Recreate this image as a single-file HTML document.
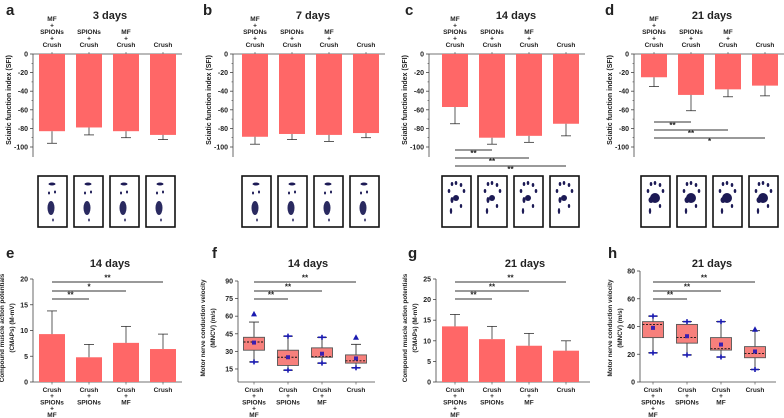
<!DOCTYPE html>
<html><head><meta charset="utf-8"><style>
html,body{margin:0;padding:0;background:#fff;width:784px;height:418px;overflow:hidden}
svg{display:block;font-family:"Liberation Sans",Arial,sans-serif}
</style></head><body>
<svg id="fig" width="784" height="418" viewBox="0 0 784 418" xmlns="http://www.w3.org/2000/svg"></svg>
<script>
// ---- data ----
const sfiCategories = [["MF","+","SPIONs","+","Crush"],["SPIONs","+","Crush"],["MF","+","Crush"],["Crush"]];
const sfiTicks = [0,-20,-40,-60,-80,-100];
const sfi3Mean = [-83,-79,-83,-87];
const sfi3Err  = [-96,-87,-90,-92];
const sfi7Mean = [-89,-86,-87,-85];
const sfi7Err  = [-97,-92,-94,-90];
const sfi14Mean = [-57,-90,-88,-75];
const sfi14Err  = [-75,-97,-95,-88];
const sfi21Mean = [-25,-44,-38,-34];
const sfi21Err  = [-35,-61,-46,-45];
const sig14Labels = ["**","**","**"];
const sig21Labels = ["**","**","*"];
const emgCategories = [["Crush","+","SPIONs","+","MF"],["Crush","+","SPIONs"],["Crush","+","MF"],["Crush"]];
const cmap14Mean = [9.3,4.8,7.6,6.4];
const cmap14Err  = [13.8,7.3,10.8,9.3];
const cmap14Ticks = [0,5,10,15,20];
const cmap14Sig = ["**","*","**"];
const cmap21Mean = [13.5,10.4,8.8,7.6];
const cmap21Err  = [16.4,13.5,11.8,10.0];
const cmap21Ticks = [0,5,10,15,20,25];
const cmap21Sig = ["**","**","**"];
const mncv14Q1 = [31,18,25,20];
const mncv14Q3 = [42,31,33,27];
const mncv14Med = [38,25,25.5,22];
const mncv14Mean = [37.5,25,28,24];
const mncv14Lo = [21,14,20,16];
const mncv14Hi = [55,43,42,36];
const mncv14Max = [62,43,42,42];
const mncv14Ticks = [15,30,45,60,75,90];
const mncv21Q1 = [32,28,23,17.5];
const mncv21Q3 = [43.5,41.5,32,25.5];
const mncv21Med = [41.5,32,24,20.5];
const mncv21Mean = [39,33,27,22];
const mncv21Lo = [21,19.5,18,9];
const mncv21Hi = [47.5,43.5,43.5,37];
const mncv21Max = [47.5,43.5,43.5,38];
const mncv21Ticks = [0,20,40,60,80];
const mncvSig = ["**","**","**"];

const NS="http://www.w3.org/2000/svg";
const svg=document.getElementById('fig');
function mk(tag,attrs,parent){const e=document.createElementNS(NS,tag);for(const k in attrs)e.setAttribute(k,attrs[k]);(parent||svg).appendChild(e);return e;}
function txt(x,y,s,size,opts,parent){opts=opts||{};const t=mk('text',{x:x,y:y,'font-size':size,'text-anchor':opts.anchor||'middle','font-weight':opts.bold?'bold':'normal',fill:'#222'},parent);if(opts.rot)t.setAttribute('transform','rotate(-90 '+x+' '+y+')');t.textContent=s;return t;}
const BAR='#ff6767', AX='#444';

function panelLetter(x,y,s){const t=txt(x,y,s,15,{bold:true,anchor:'start'});}
function title(x,y,s){const t=txt(x,y,s,11,{bold:true});}

function sfiPanel(o){
  const g=mk('g',{});
  
  
  const y0=54, y100=147;
  const sy=v=>y0+(-v)/100*(y100-y0);
  const cx=i=>o.bx+13+i*o.step;
  mk('line',{x1:o.ax,y1:y0,x2:o.ax,y2:157,stroke:AX,'stroke-width':0.8},g);
  mk('line',{x1:o.ax,y1:y0,x2:o.ar,y2:y0,stroke:AX,'stroke-width':0.8},g);
  sfiTicks.forEach(v=>{mk('line',{x1:o.ax-3,y1:sy(v),x2:o.ax,y2:sy(v),stroke:AX,'stroke-width':0.8},g);
    const t=txt(o.ax-5,sy(v)+2.5,String(v),7,{anchor:'end',bold:true},g);
    if(v>-100)mk('line',{x1:o.ax-1.5,y1:sy(v-10),x2:o.ax,y2:sy(v-10),stroke:AX,'stroke-width':0.6},g);});
  for(let i=0;i<4;i++)mk('line',{x1:cx(i),y1:y0-2,x2:cx(i),y2:y0,stroke:AX,'stroke-width':0.6},g);
  const yt=txt(o.ax-22,100,'Sciatic function index (SFI)',7,{rot:true,bold:true},g);
  
  sfiCategories.forEach((lines,i)=>{const n=lines.length;lines.forEach((s,k)=>{const t=txt(cx(i),47-(n-1-k)*6.5,s,6.5,{bold:true},g);});});
  o.mean.forEach((v,i)=>{
    const b=mk('rect',{x:cx(i)-13,y:y0,width:26,height:sy(v)-y0,fill:BAR},g);
    
    
    mk('line',{x1:cx(i),y1:sy(v),x2:cx(i),y2:sy(o.err[i]),stroke:'#333','stroke-width':0.8},g);
    mk('line',{x1:cx(i)-5,y1:sy(o.err[i]),x2:cx(i)+5,y2:sy(o.err[i]),stroke:'#333','stroke-width':0.8},g);
  });
  if(o.sig){o.sig.forEach((s,j)=>{const y=o.sigY[j];mk('line',{x1:cx(0),y1:y,x2:cx(j+1),y2:y,stroke:'#333','stroke-width':0.9},g);
    const t=txt((cx(0)+cx(j+1))/2,y+6,s,8,{bold:true},g);});}
  for(let i=0;i<4;i++){const fx=o.fx+i*o.fstep;
    const r=mk('rect',{x:fx,y:176,width:29,height:51,fill:'#fff',stroke:'#111','stroke-width':1.6},g);
    
    const c='#1c1a55';
    if(o.id==='d'||o.id==='c'){
      const sc=o.id==='d'?1:0.6;
      [[10,5],[14,4],[19,6],[7,12],[22,12]].forEach(p=>mk('ellipse',{cx:fx+p[0],cy:176+p[1]+3,rx:1.3,ry:2,fill:c},g));
      mk('ellipse',{cx:fx+14,cy:198,rx:5*sc,ry:5*sc,fill:c},g);
      mk('ellipse',{cx:fx+10,cy:200,rx:2.5*sc,ry:3,fill:c},g);
      mk('ellipse',{cx:fx+9,cy:211,rx:1.2,ry:3,fill:c},g);
      mk('ellipse',{cx:fx+19,cy:206,rx:1.2,ry:2,fill:c},g);
    } else {
      mk('ellipse',{cx:fx+14,cy:184,rx:3.5,ry:1.5,fill:c},g);
      mk('ellipse',{cx:fx+17,cy:192,rx:1,ry:1.5,fill:c},g);
      mk('ellipse',{cx:fx+11,cy:193,rx:1,ry:1.5,fill:c},g);
      mk('ellipse',{cx:fx+13,cy:208,rx:3.5,ry:7,fill:'#2a2a60'},g);
      mk('ellipse',{cx:fx+15,cy:220,rx:0.8,ry:1.5,fill:c},g);
    }
  }
  return g;
}
panelLetter(6,15,'a');title(110,19,'3 days');
sfiPanel({id:'a',ax:33,ar:182,bx:39,step:37,mean:sfi3Mean,err:sfi3Err,fx:38,fstep:36});
panelLetter(203,15,'b');title(313,19,'7 days');
sfiPanel({id:'b',ax:233,ar:385,bx:242,step:37,mean:sfi7Mean,err:sfi7Err,fx:242,fstep:36});
panelLetter(405,15,'c');title(516,19,'14 days');
sfiPanel({id:'c',ax:429,ar:585,bx:442,step:37,mean:sfi14Mean,err:sfi14Err,fx:442,fstep:36,sig:sig14Labels,sigY:[150,158,166]});
panelLetter(605,15,'d');title(712,19,'21 days');
sfiPanel({id:'d',ax:634,ar:784,bx:641,step:37,mean:sfi21Mean,err:sfi21Err,fx:641,fstep:36,sig:sig21Labels,sigY:[122,130,138]});

const yb=382;
function bottomAxes(g,o,sy,cx){
  mk('line',{x1:o.ax,y1:o.ytop,x2:o.ax,y2:yb,stroke:AX,'stroke-width':0.8},g);
  mk('line',{x1:o.ax,y1:yb,x2:o.ar,y2:yb,stroke:AX,'stroke-width':0.8},g);
  o.ticks.forEach(v=>{mk('line',{x1:o.ax-3,y1:sy(v),x2:o.ax,y2:sy(v),stroke:AX,'stroke-width':0.8},g);
    const t=txt(o.ax-5,sy(v)+2.5,String(v),7,{anchor:'end',bold:true},g);});
  for(let i=0;i<4;i++)mk('line',{x1:cx(i),y1:yb,x2:cx(i),y2:yb+2.5,stroke:AX,'stroke-width':0.6},g);
  o.ytitle.forEach((s,k)=>{const t=txt(o.ax-o.tOff+k*10,328,s,6.3,{rot:true,bold:true},g);});
  emgCategories.forEach((lines,i)=>lines.forEach((s,k)=>{const t=txt(cx(i),392+k*6.2,s,6.5,{bold:true},g);}));
  o.sig.forEach((s,j)=>{const y=[282,291,299][j];const xe=cx(3-j);
    mk('line',{x1:cx(0),y1:y,x2:xe,y2:y,stroke:'#333','stroke-width':0.9},g);
    const t=txt((cx(0)+xe)/2,y-1.5,s,8,{bold:true},g);});
}
function barPanel(o){
  const g=mk('g',{});
  
  
  const sy=v=>yb-(v-o.min)/(o.max-o.min)*(yb-o.ytop);
  const cx=i=>o.bx+13+i*o.step;
  bottomAxes(g,o,sy,cx);
  o.mean.forEach((v,i)=>{
    const b=mk('rect',{x:cx(i)-13,y:sy(v),width:26,height:yb-sy(v),fill:BAR},g);
    
    
    mk('line',{x1:cx(i),y1:sy(v),x2:cx(i),y2:sy(o.err[i]),stroke:'#333','stroke-width':0.8},g);
    mk('line',{x1:cx(i)-5,y1:sy(o.err[i]),x2:cx(i)+5,y2:sy(o.err[i]),stroke:'#333','stroke-width':0.8},g);
  });
}
function boxPanel(o){
  const g=mk('g',{});
  
  
  const sy=v=>yb-(v-o.min)/(o.max-o.min)*(yb-o.ytop);
  const cx=i=>o.c0+i*o.step;
  bottomAxes(g,o,sy,cx);
  const blue='#1a1ab0';
  for(let i=0;i<4;i++){const x=cx(i);
    mk('line',{x1:x,y1:sy(o.hi[i]),x2:x,y2:sy(o.lo[i]),stroke:'#333','stroke-width':0.9},g);
    mk('line',{x1:x-5,y1:sy(o.hi[i]),x2:x+5,y2:sy(o.hi[i]),stroke:'#333','stroke-width':0.9},g);
    mk('line',{x1:x-5,y1:sy(o.lo[i]),x2:x+5,y2:sy(o.lo[i]),stroke:'#333','stroke-width':0.9},g);
    const b=mk('rect',{x:x-10.5,y:sy(o.q3[i]),width:21,height:sy(o.q1[i])-sy(o.q3[i]),fill:'#f7807c',stroke:'#555','stroke-width':0.9},g);
    
    
    mk('line',{x1:x-10.5,y1:sy(o.med[i]),x2:x+10.5,y2:sy(o.med[i]),stroke:'#111','stroke-width':0.9,'stroke-dasharray':'2,1.5'},g);
    const m=mk('rect',{x:x-2,y:sy(o.mean[i])-2,width:4,height:4,fill:'#3a1fb0'},g);
    
    mk('line',{x1:x-4,y1:sy(o.lo[i]),x2:x+4,y2:sy(o.lo[i]),stroke:blue,'stroke-width':1.6},g);
    mk('line',{x1:x,y1:sy(o.lo[i])-2.5,x2:x,y2:sy(o.lo[i])+2.5,stroke:blue,'stroke-width':1.6},g);
    const ym=sy(o.mx[i]);
    if(o.mx[i]>o.hi[i]){mk('polygon',{points:(x-3)+','+(ym+2.5)+' '+(x+3)+','+(ym+2.5)+' '+x+','+(ym-3),fill:blue},g);}
    else{mk('line',{x1:x-4,y1:ym,x2:x+4,y2:ym,stroke:blue,'stroke-width':1.6},g);mk('line',{x1:x,y1:ym-2.5,x2:x,y2:ym+2.5,stroke:blue,'stroke-width':1.6},g);}
  }
}
panelLetter(6,258,'e');title(110,267,'14 days');
barPanel({id:'e',ax:33,ar:182,ytop:279,min:0,max:20,ticks:cmap14Ticks,bx:39,step:37,mean:cmap14Mean,err:cmap14Err,sig:cmap14Sig,tOff:29,ytitle:['Compound muscle action potentials','(CMAPs) (M-mV)']});
panelLetter(212,258,'f');title(308,267,'14 days');
boxPanel({id:'f',ax:238,ar:375,ytop:281,min:90-(382-281)/1.173,max:90,ticks:mncv14Ticks,c0:254,step:34,q1:mncv14Q1,q3:mncv14Q3,med:mncv14Med,mean:mncv14Mean,lo:mncv14Lo,hi:mncv14Hi,mx:mncv14Max,sig:mncvSig,tOff:33,ytitle:['Motor nerve conduction velocity','(MNCV)  (m/s)']});
panelLetter(408,258,'g');title(525,267,'21 days');
barPanel({id:'g',ax:436,ar:590,ytop:279,min:0,max:25,ticks:cmap21Ticks,bx:442,step:37,mean:cmap21Mean,err:cmap21Err,sig:cmap21Sig,tOff:29,ytitle:['Compound muscle action potentials','(CMAPs) (M-mV)']});
panelLetter(608,258,'h');title(712,267,'21 days');
boxPanel({id:'h',ax:640,ar:776,ytop:271,min:0,max:80,ticks:mncv21Ticks,c0:653,step:34,q1:mncv21Q1,q3:mncv21Q3,med:mncv21Med,mean:mncv21Mean,lo:mncv21Lo,hi:mncv21Hi,mx:mncv21Max,sig:mncvSig,tOff:28,ytitle:['Motor nerve conduction velocity','(MNCV)  (m/s)']});
</script>
</body></html>
